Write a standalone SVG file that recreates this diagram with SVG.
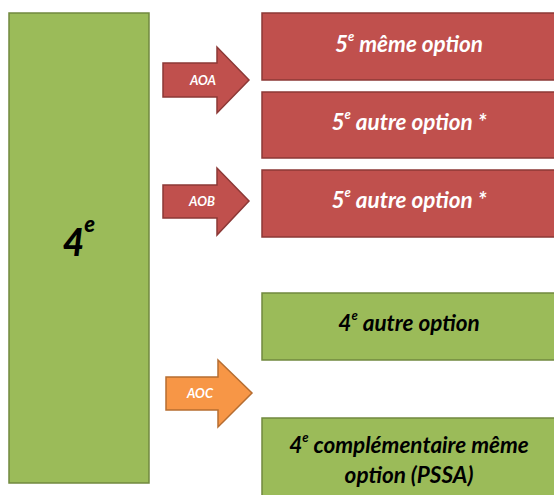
<svg xmlns="http://www.w3.org/2000/svg" width="554" height="495" viewBox="0 0 554 495">
<style>
.red{fill:#C0504D;stroke:#8C3836;stroke-width:1.5}
.green{fill:#9BBB59;stroke:#71893F;stroke-width:1.5}
.orange{fill:#F79646;stroke:#B66D31;stroke-width:1.5}
.t{font-family:Lato,"Open Sans","Liberation Sans",sans-serif;font-weight:bold;font-style:italic;font-size:22.5px;text-anchor:middle}
.w{fill:#FFFFFF}
.k{fill:#000000}
.a{font-family:Lato,"Open Sans","Liberation Sans",sans-serif;font-size:13px;font-weight:bold;font-style:italic;fill:#FFFFFF;text-anchor:middle}
</style>
<rect width="554" height="495" fill="#FFFFFF"/>
<g id="n4e">
<rect class="green" x="9" y="13" width="140" height="470"/>
<text class="t k" x="79" y="256" style="font-size:37px;font-weight:900">4<tspan font-size="22" dy="-24">e</tspan></text>
</g>
<g id="connectors">
<g id="aoa">
<path class="red" d="M163,63 H217 V47 L249,80 L217,113 V97 H163 Z"/>
<text class="a" x="203" y="85">AOA</text>
</g>
<g id="aob">
<path class="red" d="M163,185 H217 V168 L249,201 L217,235 V218 H163 Z"/>
<text class="a" x="202" y="206">AOB</text>
</g>
<g id="aoc">
<path class="orange" d="M166,377 H218 V360 L252,393 L218,427 V410 H166 Z"/>
<text class="a" x="200" y="398">AOC</text>
</g>
</g>
<g id="n5meme">
<rect class="red" x="262" y="13" width="296" height="67"/>
<text class="t w" x="409" y="52">5<tspan font-size="13" dy="-11">e</tspan><tspan dy="11"> même option</tspan></text>
</g>
<g id="n5autre1">
<rect class="red" x="262" y="92" width="296" height="66"/>
<text class="t w" x="409" y="130">5<tspan font-size="13" dy="-11">e</tspan><tspan dy="11"> autre option *</tspan></text>
</g>
<g id="n5autre2">
<rect class="red" x="262" y="170" width="296" height="67"/>
<text class="t w" x="409" y="208">5<tspan font-size="13" dy="-11">e</tspan><tspan dy="11"> autre option *</tspan></text>
</g>
<g id="n4autre">
<rect class="green" x="262" y="293" width="296" height="67"/>
<text class="t k" x="409" y="331">4<tspan font-size="13" dy="-11">e</tspan><tspan dy="11"> autre option</tspan></text>
</g>
<g id="n4comp">
<rect class="green" x="262" y="418" width="296" height="90"/>
<text class="t k" x="409" y="453">4<tspan font-size="13" dy="-11">e</tspan><tspan dy="11"> complémentaire même</tspan></text>
<text class="t k" x="409" y="483">option (PSSA)</text>
</g>
</svg>
